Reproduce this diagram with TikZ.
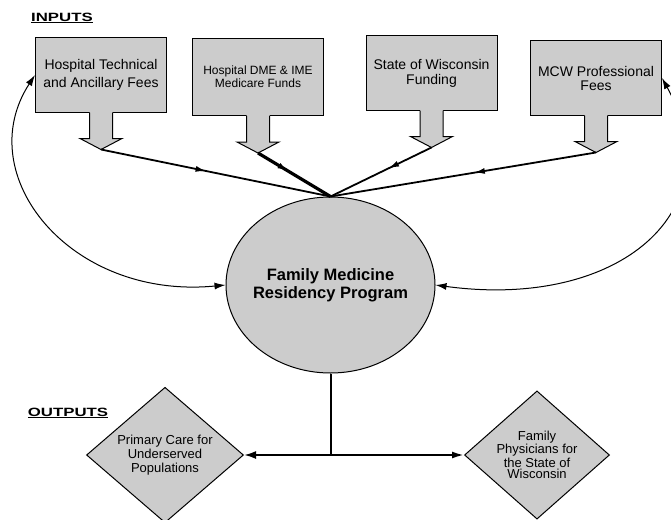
\documentclass[tikz,border=0pt]{standalone}
\usepackage{fontspec}
\setmainfont{Liberation Sans}
\usetikzlibrary{shapes.geometric, arrows.meta, decorations.markings}

\tikzset{
	stipple/.style = {fill=black!20},
	inbox/.style = {stipple, draw, line width=1pt, minimum width=131, minimum height=74, align=center, inner sep=0},
	outbox/.style = {shape=diamond, stipple, draw, line width=1pt, align=center, inner sep=0},
	flow/.style = {line width=1.8pt},
	midarrow/.style = {postaction=decorate, decoration={markings, mark=at position #1 with {\arrow{Latex[length=11pt,width=6pt]}}}},
	loopback/.style = {line width=1pt, {Latex[length=11pt,width=7pt]}-{Latex[length=11pt,width=7pt]}}
}

% stem and head under an input box, tip named #2
\newcommand{\instem}[2]{%
	\fill[stipple] (#1.south) ++(-11.5,-1) -- ++(0,27) -- ++(-9.5,0) -- ++(21,11) -- ++(21,-11) -- ++(-9.5,0) -- ++(0,-27) -- cycle;
	\draw[line width=1pt] (#1.south) ++(-11.5,0) -- ++(0,26) -- ++(-9.5,0) -- ++(21,11) coordinate (#2) -- ++(21,-11) -- ++(-9.5,0) -- ++(0,-26);
}

\begin{document}
\begin{tikzpicture}[x=1pt, y=-1pt]
		\useasboundingbox (0,0) rectangle (671,519);
		%%%%%%%%%%%%%
		\node (inputs) at (62, 18) {\fontsize{12}{14}\selectfont\scalebox{1.4}[1]{\bfseries\underline{INPUTS}}};
		\node (outputs) at (68, 413) {\fontsize{12}{14}\selectfont\scalebox{1.4}[1]{\bfseries\underline{OUTPUTS}}};
		%%%%%%%%%%%%%
		\node[inbox, font=\fontsize{14}{18}\selectfont] (hosp) at (101, 75) {Hospital Technical\\and Ancillary Fees};
		\node[inbox, minimum height=77, font=\fontsize{12}{13}\selectfont] (dme) at (258, 77) {Hospital DME \& IME\\Medicare Funds};
		\node[inbox, font=\fontsize{14}{15}\selectfont] (state) at (431.5, 73) {State of Wisconsin\\Funding};
		\node[inbox, font=\fontsize{14}{14}\selectfont] (mcw) at (596, 78) {MCW Professional\\Fees};
		\instem{hosp}{t1} \instem{dme}{t2} \instem{state}{t3} \instem{mcw}{t4}
		%%%%%%%%%%%%%
		\node[ellipse, stipple, draw, line width=1pt, inner xsep=-5pt, inner ysep=0, minimum width=209, minimum height=176, align=center, font=\fontsize{16.5}{18}\selectfont\bfseries] (fmrp) at (330.5, 285) {Family Medicine\\Residency Program};
		\node[outbox, minimum width=157, minimum height=130, font=\fontsize{13}{14}\selectfont] (pcu) at (165, 455) {Primary Care for\\Underserved\\Populations};
		\node[outbox, minimum width=145, minimum height=125, font=\fontsize{13}{11.5}\selectfont] (fpw) at (537, 455) {Family\\Physicians for\\the State of\\Wisconsin};
		%%%%%%%%%%%%%
		\draw[flow, midarrow=.46] (t1) -- (fmrp.north);
		\draw[flow, line width=3.2pt, midarrow=.42] (t2) -- (fmrp.north);
		\draw[flow, midarrow=.43] (t3) -- (fmrp.north);
		\draw[flow, midarrow=.46] (t4) -- (fmrp.north);
		\draw[loopback] (hosp.west) .. controls (-30, 175) and (70, 300) .. (fmrp.west);
		\draw[loopback] (mcw.east) .. controls (735, 210) and (620, 310) .. (fmrp.east);
		\draw[flow, line width=2pt, -{Latex[length=12pt,width=8pt]}] (fmrp.south) |- (pcu.east);
		\draw[flow, line width=2pt, -{Latex[length=12pt,width=7pt]}] (fmrp.south) |- (fpw.west);
\end{tikzpicture}
\end{document}
